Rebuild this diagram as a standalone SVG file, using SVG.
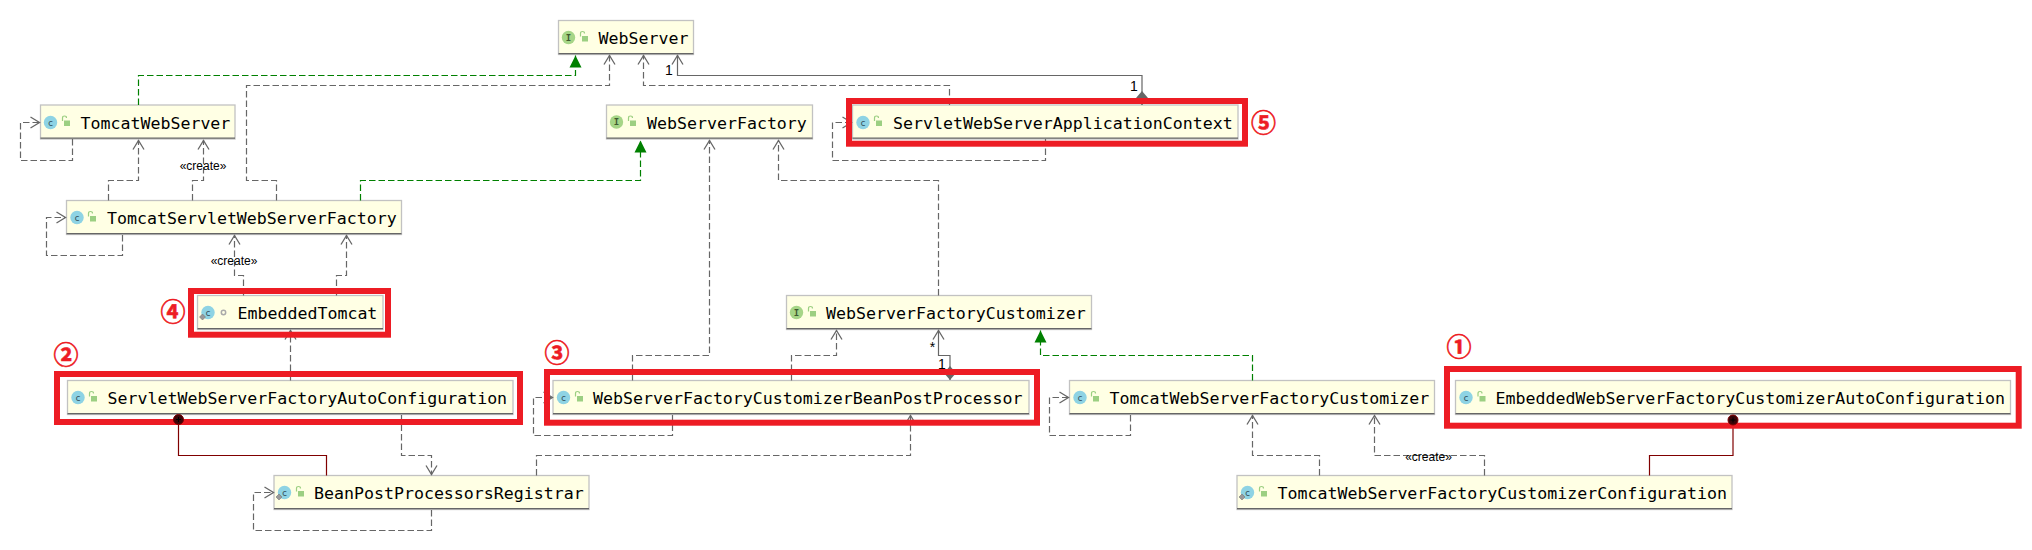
<svg xmlns="http://www.w3.org/2000/svg" width="2032" height="550" viewBox="0 0 2032 550">
<style>
text{white-space:pre}
.box{fill:#ffffe4;stroke:#c2c2c2;stroke-width:1.3}
.sh{stroke:#666;stroke-width:1.3;fill:none}
.n{font-family:"DejaVu Sans Mono",monospace;font-size:16.6px;fill:#000}
.ci{fill:#8ed3e4}
.ii{fill:#a6d587}
.ic{font-family:"DejaVu Sans Mono",monospace;font-size:9px;fill:#33505a;text-anchor:middle}
.im{font-family:"DejaVu Sans Mono",monospace;font-size:9px;font-weight:700;fill:#3f5a30;text-anchor:middle}
.lk{fill:#9ccf82}
.sk{fill:none;stroke:#9ccf82;stroke-width:1.2}
.bd{fill:#999;stroke:#777;stroke-width:.6}
.ring{fill:none;stroke:#aaa;stroke-width:1.5}
.c{fill:none;stroke:#666;stroke-width:1.2}
.d{stroke-dasharray:6.5 3}
.g{stroke:#008000}
.r{stroke:#800000}
.arr{marker-end:url(#open)}
.tri{marker-end:url(#green)}
.dia{marker-end:url(#diamond)}
.lb{font-family:"Liberation Sans",Arial,sans-serif;font-size:12px;fill:#000;text-anchor:middle}
.mu{font-family:"Liberation Sans",Arial,sans-serif;font-size:14px;fill:#000;text-anchor:middle}
.hl{fill:none;stroke:#ed1c24;stroke-width:6}
.num{font-family:"Noto Sans CJK SC",sans-serif;font-size:25px;font-weight:700;fill:#ed1c24;stroke:#ed1c24;stroke-width:.6;text-anchor:middle}
.dot{fill:#3a0508;stroke:#800000;stroke-width:1}
.pl{stroke:#000;stroke-width:1;fill:none}
</style>
<defs>
<marker id="open" markerUnits="userSpaceOnUse" markerWidth="14" markerHeight="16" refX="13" refY="7.5" orient="auto"><path d="M3.5,2 L12.5,7.5 L3.5,13" fill="none" stroke="#666" stroke-width="1.3"/></marker>
<marker id="green" markerUnits="userSpaceOnUse" markerWidth="13" markerHeight="14" refX="12" refY="6.5" orient="auto"><path d="M0,0.5 L12,6.5 L0,12.5Z" fill="#008000"/></marker>
<marker id="diamond" markerUnits="userSpaceOnUse" markerWidth="15" markerHeight="14" refX="14" refY="6.5" orient="auto"><path d="M0,6.5 L7,0.5 L14,6.5 L7,12.5Z" fill="#666"/></marker>
<g id="lock"><rect class="lk" x="-2" y="-1.5" width="6" height="5.5"/><path class="sk" d="M-3.5,-1 V-4 Q-3.5,-6 -1.5,-6 Q0.5,-6 0.5,-4"/></g>
</defs>

<g id="nodes">
<g id="WebServer" transform="translate(558.5 20.5)"><rect class="box" width="135" height="34"/><path class="sh" d="M0,33.2H135"/><circle class="ii" cx="10" cy="17" r="6.7"/><text class="im" x="10" y="20">I</text><use href="#lock" x="25.5" y="17"/><text class="n" x="40" y="23.5">WebServer</text></g>
<g id="TomcatWebServer" transform="translate(40.5 105)"><rect class="box" width="194.5" height="34"/><path class="sh" d="M0,33.2H194.5"/><circle class="ci" cx="10" cy="17.5" r="6.7"/><text class="ic" x="10" y="20.5">c</text><use href="#lock" x="25.5" y="17"/><text class="n" x="40" y="23.5">TomcatWebServer</text></g>
<g id="WebServerFactory" transform="translate(606.5 105)"><rect class="box" width="206" height="34"/><path class="sh" d="M0,33.2H206"/><circle class="ii" cx="10" cy="17" r="6.7"/><text class="im" x="10" y="20">I</text><use href="#lock" x="25.5" y="17"/><text class="n" x="40.5" y="23.5">WebServerFactory</text></g>
<g id="ServletWebServerApplicationContext" transform="translate(852.5 105)"><rect class="box" width="385.5" height="34"/><path class="sh" d="M0,33.2H385.5"/><circle class="ci" cx="10.5" cy="17.5" r="6.7"/><text class="ic" x="10.5" y="20.5">c</text><use href="#lock" x="25.5" y="17"/><text class="n" x="40.5" y="23.5">ServletWebServerApplicationContext</text></g>
<g id="TomcatServletWebServerFactory" transform="translate(66.5 200.5)"><rect class="box" width="335" height="34"/><path class="sh" d="M0,33.2H335"/><circle class="ci" cx="10.5" cy="17" r="6.7"/><text class="ic" x="10.5" y="20">c</text><use href="#lock" x="25.5" y="17"/><text class="n" x="40.5" y="23.5">TomcatServletWebServerFactory</text></g>
<g id="EmbeddedTomcat" transform="translate(197.5 295.5)"><rect class="box" width="185.5" height="34"/><path class="sh" d="M0,33.2H185.5"/><circle class="ci" cx="10.5" cy="17" r="6.7"/><text class="ic" x="10.5" y="20">c</text><path class="bd" d="M5,18.5 l3,3 -3,3 -3,-3Z"/><circle class="ring" cx="26" cy="17" r="2.2"/><text class="n" x="40" y="23.5">EmbeddedTomcat</text></g>
<g id="ServletWebServerFactoryAutoConfiguration" transform="translate(67.5 380.5)"><rect class="box" width="445.5" height="34"/><path class="sh" d="M0,33.2H445.5"/><circle class="ci" cx="10.5" cy="17" r="6.7"/><text class="ic" x="10.5" y="20">c</text><use href="#lock" x="25.5" y="17"/><text class="n" x="40" y="23.5">ServletWebServerFactoryAutoConfiguration</text></g>
<g id="BeanPostProcessorsRegistrar" transform="translate(274 475.5)"><rect class="box" width="315" height="34"/><path class="sh" d="M0,33.2H315"/><circle class="ci" cx="10.5" cy="17" r="6.7"/><text class="ic" x="10.5" y="20">c</text><path class="bd" d="M5,18.5 l3,3 -3,3 -3,-3Z"/><use href="#lock" x="26" y="17"/><text class="n" x="40" y="23.5">BeanPostProcessorsRegistrar</text></g>
<g id="WebServerFactoryCustomizer" transform="translate(786.5 295.5)"><rect class="box" width="305" height="34"/><path class="sh" d="M0,33.2H305"/><circle class="ii" cx="10" cy="17" r="6.7"/><text class="im" x="10" y="20">I</text><use href="#lock" x="25.5" y="17"/><text class="n" x="39.5" y="23.5">WebServerFactoryCustomizer</text></g>
<g id="WebServerFactoryCustomizerBeanPostProcessor" transform="translate(553 380.5)"><rect class="box" width="476" height="34"/><path class="sh" d="M0,33.2H476"/><circle class="ci" cx="10.5" cy="17" r="6.7"/><text class="ic" x="10.5" y="20">c</text><use href="#lock" x="26" y="17"/><text class="n" x="40" y="23.5">WebServerFactoryCustomizerBeanPostProcessor</text></g>
<g id="TomcatWebServerFactoryCustomizer" transform="translate(1069.5 380.5)"><rect class="box" width="365" height="34"/><path class="sh" d="M0,33.2H365"/><circle class="ci" cx="10.5" cy="17" r="6.7"/><text class="ic" x="10.5" y="20">c</text><use href="#lock" x="25.5" y="17"/><text class="n" x="40" y="23.5">TomcatWebServerFactoryCustomizer</text></g>
<g id="EmbeddedWebServerFactoryCustomizerAutoConfiguration" transform="translate(1455.5 380.5)"><rect class="box" width="555" height="34"/><path class="sh" d="M0,33.2H555"/><circle class="ci" cx="10.5" cy="17" r="6.7"/><text class="ic" x="10.5" y="20">c</text><use href="#lock" x="26" y="17"/><text class="n" x="40" y="23.5">EmbeddedWebServerFactoryCustomizerAutoConfiguration</text></g>
<g id="TomcatWebServerFactoryCustomizerConfiguration" transform="translate(1237 475.5)"><rect class="box" width="495" height="34"/><path class="sh" d="M0,33.2H495"/><circle class="ci" cx="10.5" cy="17" r="6.7"/><text class="ic" x="10.5" y="20">c</text><path class="bd" d="M5,18.5 l3,3 -3,3 -3,-3Z"/><use href="#lock" x="26" y="17"/><text class="n" x="40.5" y="23.5">TomcatWebServerFactoryCustomizerConfiguration</text></g>
</g>

<g id="connectors">
<path class="c d g tri" d="M138.5,105V75.5H575.5V55.5"/>
<path class="c d arr" d="M276.5,200.5V180.5H246.5V85.5H609.5V55"/>
<path class="c d arr" d="M949.5,105V85.5H643.5V55"/>
<path class="c arr" d="M1142,100V75.5H677.5V55"/>
<path class="c dia" d="M1142,92V105"/>
<path class="c d arr" d="M1045.5,139V160.5H832.5V122.5H852"/>
<path class="c d arr" d="M72.5,139V160.5H20.5V122.5H40"/>
<path class="c d arr" d="M108.5,200.5V180.5H138.5V140"/>
<path class="c d arr" d="M192.5,200.5V180.5H203.5V140"/>
<path class="c d g tri" d="M360.5,200.5V180.5H640.5V140.5"/>
<path class="c d arr" d="M122.5,235V255.5H46.5V217.5H66"/>
<path class="c d arr" d="M243.5,295.5V275.5H234.5V235"/>
<path class="c d arr" d="M336.5,295.5V275.5H346.5V235"/>
<path class="c d arr" d="M290.5,380.5V330"/>
<path class="c d arr" d="M401.5,415V455.5H431.5V475"/>
<path class="c d arr" d="M431.5,510V530.5H253.5V492.5H274"/>
<path class="c d arr" d="M536.5,475.5V455.5H910.5V415"/>
<path class="c d arr" d="M632.5,380.5V355.5H709.5V140"/>
<path class="c d arr" d="M791.5,380.5V355.5H836.5V330"/>
<path class="c d arr" d="M938.5,295.5V180.5H778.5V140"/>
<path class="c arr" d="M950,370V355.5H938.5V330"/>
<path class="c dia" d="M950,367V380"/>
<path class="c d g tri" d="M1252.5,380.5V355.5H1040.5V330.5"/>
<path class="c d arr" d="M672.5,415V435.5H533.5V397.5H553"/>
<path class="c d arr" d="M1130.5,415V435.5H1049.5V397.5H1069"/>
<path class="c d arr" d="M1319.5,475.5V455.5H1252.5V415"/>
<path class="c d arr" d="M1484.5,475.5V455.5H1374.5V415"/>
<path class="c r" d="M326.5,475.5V455.5H178.5V420"/>
<path class="c r" d="M1649.5,475.5V455.5H1733V420"/>
<text class="lb" x="203" y="170">«create»</text>
<text class="lb" x="234" y="265">«create»</text>
<text class="lb" x="1428.5" y="461">«create»</text>
<text class="mu" x="669" y="75">1</text>
<text class="mu" x="1134" y="90.5">1</text>
<text class="mu" x="932.5" y="352">*</text>
<text class="mu" x="942" y="369">1</text>
</g>

<g id="highlights">
<rect class="hl" x="849" y="101" width="396" height="42.7"/>
<rect class="hl" x="191" y="291" width="197" height="43.7"/>
<rect class="hl" x="57" y="374" width="463" height="48"/>
<rect class="hl" x="547" y="372" width="490" height="50.7"/>
<rect class="hl" x="1447" y="369" width="571.7" height="56.7"/>
<text class="num" x="1263.5" y="132">⑤</text>
<text class="num" x="173" y="320.5">④</text>
<text class="num" x="66" y="364">②</text>
<text class="num" x="557" y="362">③</text>
<text class="num" x="1459" y="355.5">①</text>
</g>

<g id="owners">
<g><circle class="dot" cx="178.5" cy="419.5" r="5"/><path class="pl" d="M176,419.5h5M178.5,417v5"/></g>
<g><circle class="dot" cx="1733" cy="420" r="5"/><path class="pl" d="M1730.5,420h5M1733,417.5v5"/></g>
</g>
</svg>
